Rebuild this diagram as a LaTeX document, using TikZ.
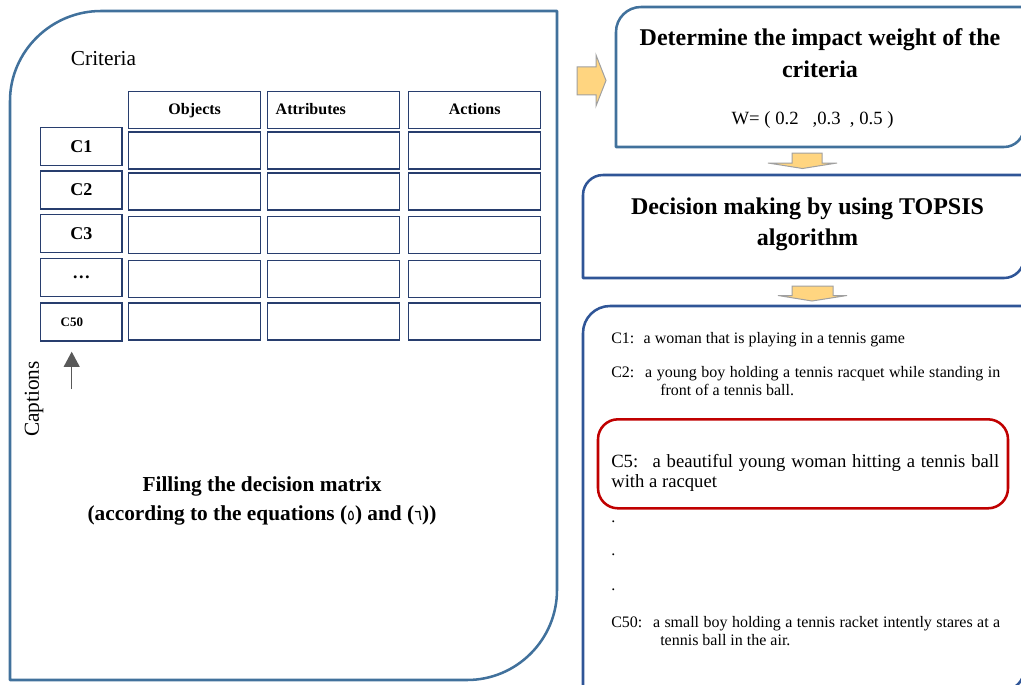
\documentclass[tikz,border=0pt]{standalone}
\usepackage{fontspec}
\setmainfont{Liberation Serif}
\newfontfamily\arabicfont[Script=Arabic]{DejaVu Sans}
\TeXXeTstate=1
\usepackage{tikz}
\usepackage{xcolor}
\usetikzlibrary{positioning}
\usetikzlibrary{arrows.meta}

\begin{document}
\begin{tikzpicture}[x=0.75pt, y=-0.75pt,
    panel/.style={line width=1.9pt, line join=round},
    cell/.style={draw=CELL, line width=1.1pt, minimum width=99pt, minimum height=27.75pt, inner sep=0pt},
    headcell/.style={cell, font=\fontsize{12}{14}\selectfont\bfseries, text height=8.5pt, text depth=2.5pt},
    rowcell/.style={cell, minimum width=61pt, minimum height=28.5pt, font=\fontsize{13.5}{16}\selectfont\bfseries},
    bigbold/.style={font=\fontsize{18}{23.5}\selectfont\bfseries, align=center, inner sep=0pt},
    midbold/.style={font=\fontsize{16}{21.75}\selectfont\bfseries, align=center, inner sep=0pt},
    captext/.style={font=\fontsize{12}{13.5}\selectfont, inner sep=0pt},
    longcap/.style={captext, text width=291.75pt, align=justify},
    blockarrow/.style={fill=ARROWFILL, draw=ARROWLINE, line width=0.75pt},
    uparrow/.style={draw=ARROWGRAY, line width=1.1pt, -{Triangle[width=11.8pt, length=11.3pt]}}
  ]
			\definecolor{PANEL}{RGB}{65, 113, 156}
			\definecolor{DARKPANEL}{RGB}{47, 85, 151}
			\definecolor{CELL}{RGB}{40, 62, 110}
			\definecolor{CAPRED}{RGB}{192, 0, 0}
			\definecolor{ARROWFILL}{RGB}{255, 213, 128}
			\definecolor{ARROWLINE}{RGB}{160, 160, 160}
			\definecolor{ARROWGRAY}{RGB}{89, 89, 89}
			\useasboundingbox (0,0) rectangle (1021,685);
			\clip (0,0) rectangle (1021,685);
			% left panel: the decision matrix
			\draw[panel, draw=PANEL] (10,680) -- (10,101) .. controls (10,51.3) and (51.3,11) .. (101,11) -- (557,11) -- (557,590) .. controls (557,639.7) and (516.7,680) .. (467,680) -- cycle;
			\node[captext, font=\fontsize{16}{18}\selectfont, anchor=base west] (criteria) at (70.7,65) {Criteria};
			\node[headcell] (objects) at (194.7,110) {Objects};
			\node[headcell, text width=87pt, inner xsep=6pt, align=left] (attributes) at (333.7,110) {Attributes};
			\node[headcell] (actions) at (474.7,110) {Actions};
			\node[rowcell] (c1) at (81.3,146.7) {C1};
			\node[rowcell] (c2) at (81.3,190) {C2};
			\node[rowcell] (c3) at (81.3,233.3) {C3};
			\node[rowcell] (cdots) at (81.3,277.3) {\ldots};
			\node[rowcell, font=\fontsize{9.75}{12}\selectfont\bfseries, text width=31pt, inner xsep=15pt, align=left] (c50) at (81.3,321.8) {C50};
			\node[cell] (c1obj) at (194.7,150.3) {};
			\node[cell] (c1att) at (333.7,150.3) {};
			\node[cell] (c1act) at (474.7,150.3) {};
			\node[cell] (c2obj) at (194.7,191.7) {};
			\node[cell] (c2att) at (333.7,191.7) {};
			\node[cell] (c2act) at (474.7,191.7) {};
			\node[cell] (c3obj) at (194.7,235.2) {};
			\node[cell] (c3att) at (333.7,235.2) {};
			\node[cell] (c3act) at (474.7,235.2) {};
			\node[cell] (cdotsobj) at (194.7,279.2) {};
			\node[cell] (cdotsatt) at (333.7,279.2) {};
			\node[cell] (cdotsact) at (474.7,279.2) {};
			\node[cell] (c50obj) at (194.7,321.7) {};
			\node[cell] (c50att) at (333.7,321.7) {};
			\node[cell] (c50act) at (474.7,321.7) {};
			\coordinate (capfoot) at (71.7,389);
			\coordinate (captip) at (71.7,351.7);
			\draw[uparrow] (capfoot) -- (captip);
			\node[captext, font=\fontsize{16}{18}\selectfont, rotate=90] (captions) at (34,399) {Captions};
			\node[midbold, anchor=north] (filling) at (262,476.2) {Filling the decision matrix\\(according to the equations ({\arabicfont\mdseries\fontsize{11}{12}\selectfont\beginR ٥\endR}) and ({\arabicfont\mdseries\fontsize{11}{12}\selectfont\beginR ٦\endR}))};
			% right side: weights, TOPSIS, ranked captions
			\draw[blockarrow] (577,67) -- (596,67) -- (596,55) -- (606,80.5) -- (596,106) -- (596,95) -- (577,95) -- cycle;
			\draw[panel, draw=PANEL] (616,147) -- (616,32) .. controls (616,18.2) and (627.2,7) .. (641,7) -- (1024,7) -- (1024,127) .. controls (1024,138) and (1015,147) .. (1004,147) -- cycle;
			\node[bigbold, anchor=north] (weighttitle) at (820,28.7) {Determine the impact weight of the\\criteria};
			\node[captext, font=\fontsize{14}{16}\selectfont, anchor=base] (weights) at (812.5,124) {W= ( 0.2\ \ \ ,0.3\ \ , 0.5 )};
			\draw[blockarrow] (792,153) -- (822,153) -- (822,163) -- (837,163) -- (802.5,168.5) -- (768,163) -- (792,163) -- cycle;
			\draw[panel, draw=DARKPANEL] (583,278) -- (583,195) .. controls (583,184) and (592,175) .. (603,175) -- (1024,175) -- (1024,258) .. controls (1024,269) and (1015,278) .. (1004,278) -- cycle;
			\node[bigbold, anchor=north] (topsis) at (807.5,197.7) {Decision making by using TOPSIS\\algorithm};
			\draw[blockarrow] (792,286) -- (833,286) -- (833,295.5) -- (847,295.5) -- (812,301) -- (778,295.5) -- (792,295.5) -- cycle;
			\draw[panel, draw=DARKPANEL] (583,700) -- (583,333) .. controls (583,318.1) and (595.1,306) .. (610,306) -- (1024,306) -- (1024,670) .. controls (1024,681) and (1015,690) .. (1004,690) -- cycle;
			\node[captext, anchor=base west] (cap1) at (611,343.3) {C1:~ a woman that is playing in a tennis game};
			\node[longcap, anchor=north west] (cap2) at (611,366.5) {\hangindent=36.75pt\hangafter=1 C2:~ a young boy holding a tennis racquet while standing in front of a tennis ball.\par};
			\node[draw=CAPRED, line width=1.9pt, rounded corners=15pt, minimum width=307.5pt, minimum height=66.75pt] (c5box) at (803,463.8) {};
			\node[longcap, font=\fontsize{14}{15}\selectfont, text width=291pt, anchor=north west] (cap5) at (611,454.5) {C5:~ a beautiful young woman hitting a tennis ball\linebreak with a racquet};
			\node[captext, anchor=base west] (dot1) at (611,522) {.};
			\node[captext, anchor=base west] (dot2) at (611,555) {.};
			\node[captext, anchor=base west] (dot3) at (611,590) {.};
			\node[longcap, anchor=north west] (cap50) at (611,615.8) {\hangindent=36.75pt\hangafter=1 C50:~ a small boy holding a tennis racket intently stares at a tennis ball in the air.\par};
		\end{tikzpicture}
\end{document}
